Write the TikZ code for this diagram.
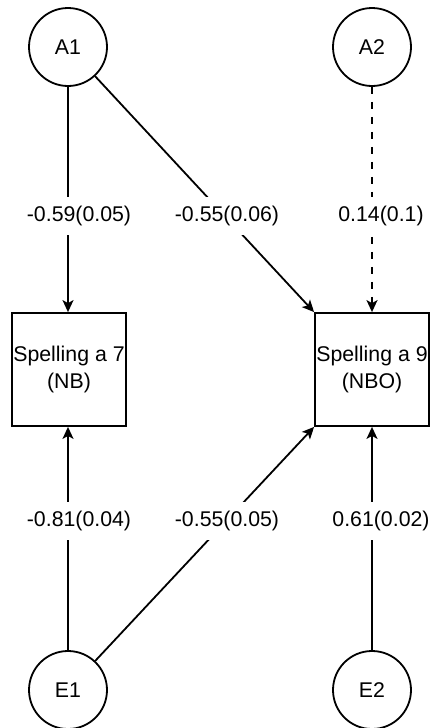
\documentclass[tikz,border=0pt]{standalone}
\usepackage{fontspec}
\setmainfont{Liberation Sans}
\usetikzlibrary{arrows.meta}
\begin{document}
\begin{tikzpicture}[x=1pt,y=-1pt,
  font=\fontsize{21.3}{26.7}\selectfont,
  latent/.style={circle,draw,line width=1.8pt,minimum size=78pt,inner sep=0pt},
  observed/.style={rectangle,draw,line width=1.8pt,minimum width=114pt,minimum height=113pt,inner sep=0pt,align=center},
  path/.style={line width=1.8pt,-{Stealth[length=12pt,width=11pt,inset=3pt]}},
  weak/.style={path,dash pattern=on 7pt off 8pt},
  coef/.style={fill=white,inner xsep=2pt,inner ysep=9pt,text height=15pt,text depth=5pt}]
\useasboundingbox (0,0) rectangle (434,728);

% latent factors and error terms
\node[latent] (A1) at (68,47) {A1};
\node[latent] (A2) at (372,47) {A2};
\node[latent] (E1) at (68,690) {E1};
\node[latent] (E2) at (372,690) {E2};

% observed spelling scores
\node[observed] (S7) at (69,369.5) {Spelling a 7\\(NB)};
\node[observed] (S9) at (372,369.5) {Spelling a 9\\(NBO)};

% structural paths
\draw[path] (A1) -- (A1 |- S7.north);
\draw[path] (A1) -- (S9.north west);
\draw[weak] (A2) -- (A2 |- S9.north);
\draw[path] (E1) -- (E1 |- S7.south);
\draw[path] (E1) -- (S9.south west);
\draw[path] (E2) -- (E2 |- S9.south);

% path coefficients
\node[coef] (c1) at (79,216) {-0.59(0.05)};
\node[coef] (c2) at (227,216) {-0.55(0.06)};
\node[coef] (c3) at (381,216) {0.14(0.1)};
\node[coef] (c4) at (79,521) {-0.81(0.04)};
\node[coef] (c5) at (227,521) {-0.55(0.05)};
\node[coef] (c6) at (381,521) {0.61(0.02)};
\end{tikzpicture}
\end{document}
